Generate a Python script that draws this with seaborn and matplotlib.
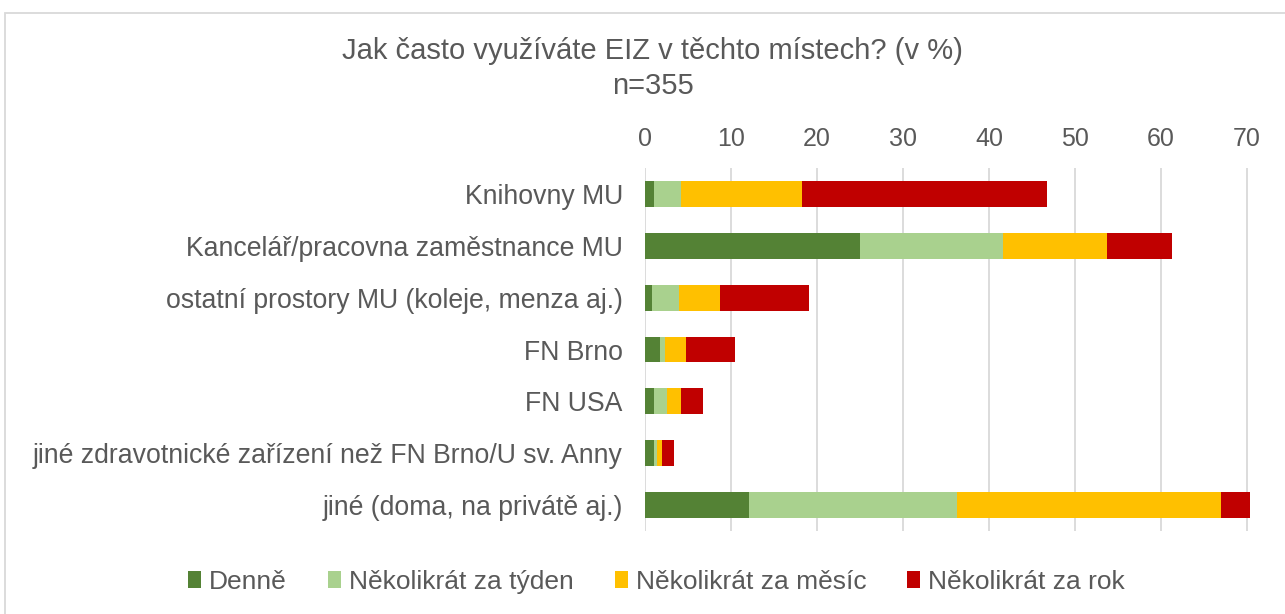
import matplotlib
matplotlib.use("Agg")
import matplotlib.pyplot as plt
from matplotlib.patches import Patch, Rectangle
import numpy as np
import pandas as pd
import seaborn as sns

categories = [
    "Knihovny MU",
    "Kancelář/pracovna zaměstnance MU",
    "ostatní prostory MU (koleje, menza aj.)",
    "FN Brno",
    "FN USA",
    "jiné zdravotnické zařízení než FN Brno/U sv. Anny",
    "jiné (doma, na privátě aj.)",
]
series_names = ["Denně", "Několikrát za týden", "Několikrát za měsíc", "Několikrát za rok"]
denne = [1.1, 25.0, 0.8, 1.7, 1.1, 1.1, 12.1]
tyden = [3.1, 16.6, 3.1, 0.6, 1.4, 0.3, 24.2]
mesic = [14.1, 12.1, 4.8, 2.5, 1.7, 0.6, 30.7]
rok = [28.4, 7.6, 10.4, 5.7, 2.5, 1.4, 3.4]
x_ticks = [0, 10, 20, 30, 40, 50, 60, 70]

colors = ["#548235", "#A9D18E", "#FFC000", "#C00000"]
text_color = "#595959"

sns.set_theme(style="white")
plt.rcParams["font.family"] = ["Liberation Sans", "DejaVu Sans"]

fig = plt.figure(figsize=(12.85, 6.14), dpi=100)
ax = fig.add_axes([645 / 1285, 1 - 531 / 614, 1 - 645 / 1285, (531 - 168) / 614])

values = np.array([denne, tyden, mesic, rok])
cum = np.cumsum(values, axis=0)
# draw from largest cumulative to smallest so segments stack visually
for i in range(3, -1, -1):
    df = pd.DataFrame({"cat": categories, "val": cum[i]})
    sns.barplot(data=df, y="cat", x="val", order=categories, color=colors[i],
                saturation=1, width=0.5, linewidth=0, ax=ax, zorder=3)

ax.set_xlim(0, (1285 - 645) / 8.6)
ax.set_ylim(6.5, -0.5)
ax.set_xticks(x_ticks)
ax.set_xticklabels([str(t) for t in x_ticks])
ax.xaxis.tick_top()
ax.tick_params(axis="x", length=0, pad=12, labelsize=18, labelcolor=text_color)
ax.tick_params(axis="y", length=0, pad=16, labelsize=19.2, labelcolor=text_color)
ax.set_xlabel("")
ax.set_ylabel("")
ax.grid(axis="x", color="#D9D9D9", linewidth=1.3, zorder=0)
ax.set_axisbelow(True)
for s in ax.spines.values():
    s.set_visible(False)

fig.text(0.508, 1 - 51 / 614, "Jak často využíváte EIZ v těchto místech? (v %)",
         ha="center", va="center", fontsize=21, color=text_color)
fig.text(0.508, 1 - 86 / 614, "n=355", ha="center", va="center", fontsize=21, color=text_color)

handles = [Patch(facecolor=c, edgecolor="none") for c in colors]
fig.legend(handles, series_names, loc="center", bbox_to_anchor=(0.511, 1 - 582 / 614),
           ncol=4, frameon=False, fontsize=19, labelcolor=text_color,
           handlelength=0.5, handleheight=0.6, handletextpad=0.3, columnspacing=1.55)

fig.patches.append(Rectangle((4.5 / 1285, -0.1), 1.2, 1 - 12.5 / 614 + 0.1,
                             transform=fig.transFigure, fill=False,
                             edgecolor="#D9D9D9", linewidth=1.3))

fig.savefig("out.png", dpi=100, facecolor="white")
